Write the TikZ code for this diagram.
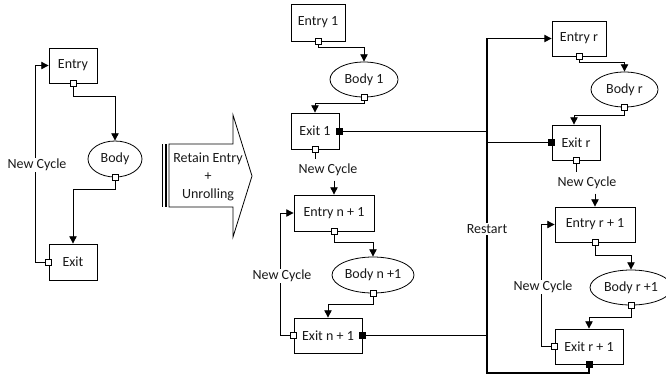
\documentclass[tikz,border=0pt]{standalone}
\usepackage{fontspec}
\setmainfont{Carlito}
\usetikzlibrary{arrows.meta,shapes.geometric,calc}
\begin{document}
\begin{tikzpicture}[x=0.75pt,y=-0.75pt,
 every node/.style={font=\fontsize{10.5}{13.5}\selectfont, text=black!90},
 sz/.style 2 args={minimum width=#1*0.75pt, minimum height=#2*0.75pt},
 box/.style={draw, rectangle, inner sep=0pt, line width=0.6pt},
 oval/.style={draw, ellipse, inner sep=0pt, line width=0.6pt},
 port/.style={draw, fill=white, rectangle, minimum size=4.5pt, inner sep=0pt, line width=0.6pt},
 fport/.style={port, fill=black},
 conn/.style={line width=0.7pt},
 arr/.style={conn, -{Triangle[length=5.5pt,width=5.5pt]}},
 lbl/.style={fill=white, inner sep=1pt},
]
\useasboundingbox (0,0) rectangle (666,376);

% ---------- left loop ----------
\node[box, sz={48}{35}] (entryA) at (73,65.5) {Entry};
\node[oval, sz={54}{36}] (bodyA) at (115,159) {Body};
\node[box, sz={48}{36}] (exitA) at (73,262) {Exit};
\node[port] (pEA) at (entryA.south) {};
\node[port] (pBA) at (bodyA.south) {};
\node[port] (pXA) at (exitA.west) {};
\draw[arr] (pEA.south) -- ++(0,10) -| (bodyA.north);
\draw[arr] (pBA.south) -- ++(0,9) -| (exitA.north);
\draw[arr] (pXA.west) -- ++(-10,0) |- (entryA.west);
\node[lbl] (ncA) at (37,165) {New Cycle};

% ---------- big arrow ----------
\draw[line width=0.6pt] (169,144) -- (233,144) -- (233,115) -- (252,176) -- (233,237) -- (233,207) -- (169,207) -- cycle;
\draw[line width=1.1pt] (162.5,144) -- (162.5,207) (165.8,144) -- (165.8,207);
\node[align=center] (ra) at (208,177) {Retain Entry\\+\\Unrolling};

% ---------- middle column ----------
\node[box, sz={54}{37}] (entry1) at (318,22.5) {Entry 1};
\node[oval, sz={68}{35}] (body1) at (364,79.5) {Body 1};
\node[box, sz={48}{36}] (exit1) at (315,131) {Exit 1};
\node[port] (pE1) at (entry1.south) {};
\node[port] (pB1) at (body1.south) {};
\node[port] (pX1) at (exit1.south) {};
\node[fport] (qX1) at (exit1.east) {};
\draw[arr] (pE1.south) -- ++(0,3) -| (body1.north);
\draw[arr] (pB1.south) -- ++(0,3) -| (exit1.north);
\node (ncB) at (328,170) {New Cycle};

\node[box, sz={80}{36}] (entryN) at (334,213) {Entry n + 1};
\node[oval, sz={82}{36}] (bodyN) at (373,275) {Body n +1};
\node[box, sz={68}{35}] (exitN) at (328,335.5) {Exit n + 1};
\node[port] (pEN) at (entryN.south) {};
\node[port] (pBN) at (bodyN.south) {};
\node[port] (pXN) at (exitN.west) {};
\node[fport] (qXN) at (exitN.east) {};
\draw[conn] (pX1.south) -- (pX1.south |- ncB.north);
\draw[arr] (entryN.north |- ncB.south) -- (entryN.north);
\draw[arr] (pEN.south) -- ++(0,8) -| (bodyN.north);
\draw[arr] (pBN.south) -- ++(0,8) -| (exitN.north);
\draw[arr] (pXN.west) -- ++(-10,0) |- (entryN.west);
\node[lbl] (ncC) at (282,276) {New Cycle};

% ---------- right column ----------
\node[box, sz={54}{35}] (entryR) at (579,38.5) {Entry r};
\node[oval, sz={67}{35}] (bodyR) at (624.5,89.5) {Body r};
\node[box, sz={48}{35}] (exitR) at (576,142.5) {Exit r};
\node[port] (pER) at (entryR.south) {};
\node[port] (pBR) at (bodyR.south) {};
\node[port] (pXR) at (exitR.south) {};
\node[fport] (qXR) at (exitR.west) {};
\draw[arr] (pER.south) -- ++(0,3) -| (bodyR.north);
\draw[arr] (pBR.south) -- ++(0,5) -| ([xshift=-1.5pt]exitR.north);
\node (ncD) at (587,183) {New Cycle};

\node[box, sz={80}{35}] (entryR1) at (595,224.5) {Entry r + 1};
\node[oval, sz={82}{35}] (bodyR1) at (631,287.5) {Body r +1};
\node[box, sz={68}{35}] (exitR1) at (589,346.5) {Exit r + 1};
\node[port] (pER1) at (entryR1.south) {};
\node[port] (pBR1) at (bodyR1.south) {};
\node[port] (pXR1) at (exitR1.west) {};
\node[fport] (qXR1) at (exitR1.south) {};
\draw[conn] (pXR.south) -- (pXR.south |- ncD.north);
\draw[arr] (entryR1.north |- ncD.south) -- (entryR1.north);
\draw[arr] (pER1.south) -- ++(0,10) -| (bodyR1.north);
\draw[arr] (pBR1.south) -- ++(0,9) -| (exitR1.north);
\draw[arr] (pXR1.west) -- ++(-10,0) |- (entryR1.west);
\node[lbl] (ncE) at (543,287) {New Cycle};

% ---------- restart bus ----------
\coordinate (rb) at (487,373);
\draw[arr, line width=0.9pt] (qXR1.south) |- (rb) |- (entryR.west);
\draw[conn] (qX1.east) -- (qX1.east -| rb);
\draw[conn] (qXN.east) -- (qXN.east -| rb);
\draw[conn] (rb |- qXR.west) -- (qXR.west);
\node[lbl] (rst) at (487,229) {Restart};
\end{tikzpicture}
\end{document}
